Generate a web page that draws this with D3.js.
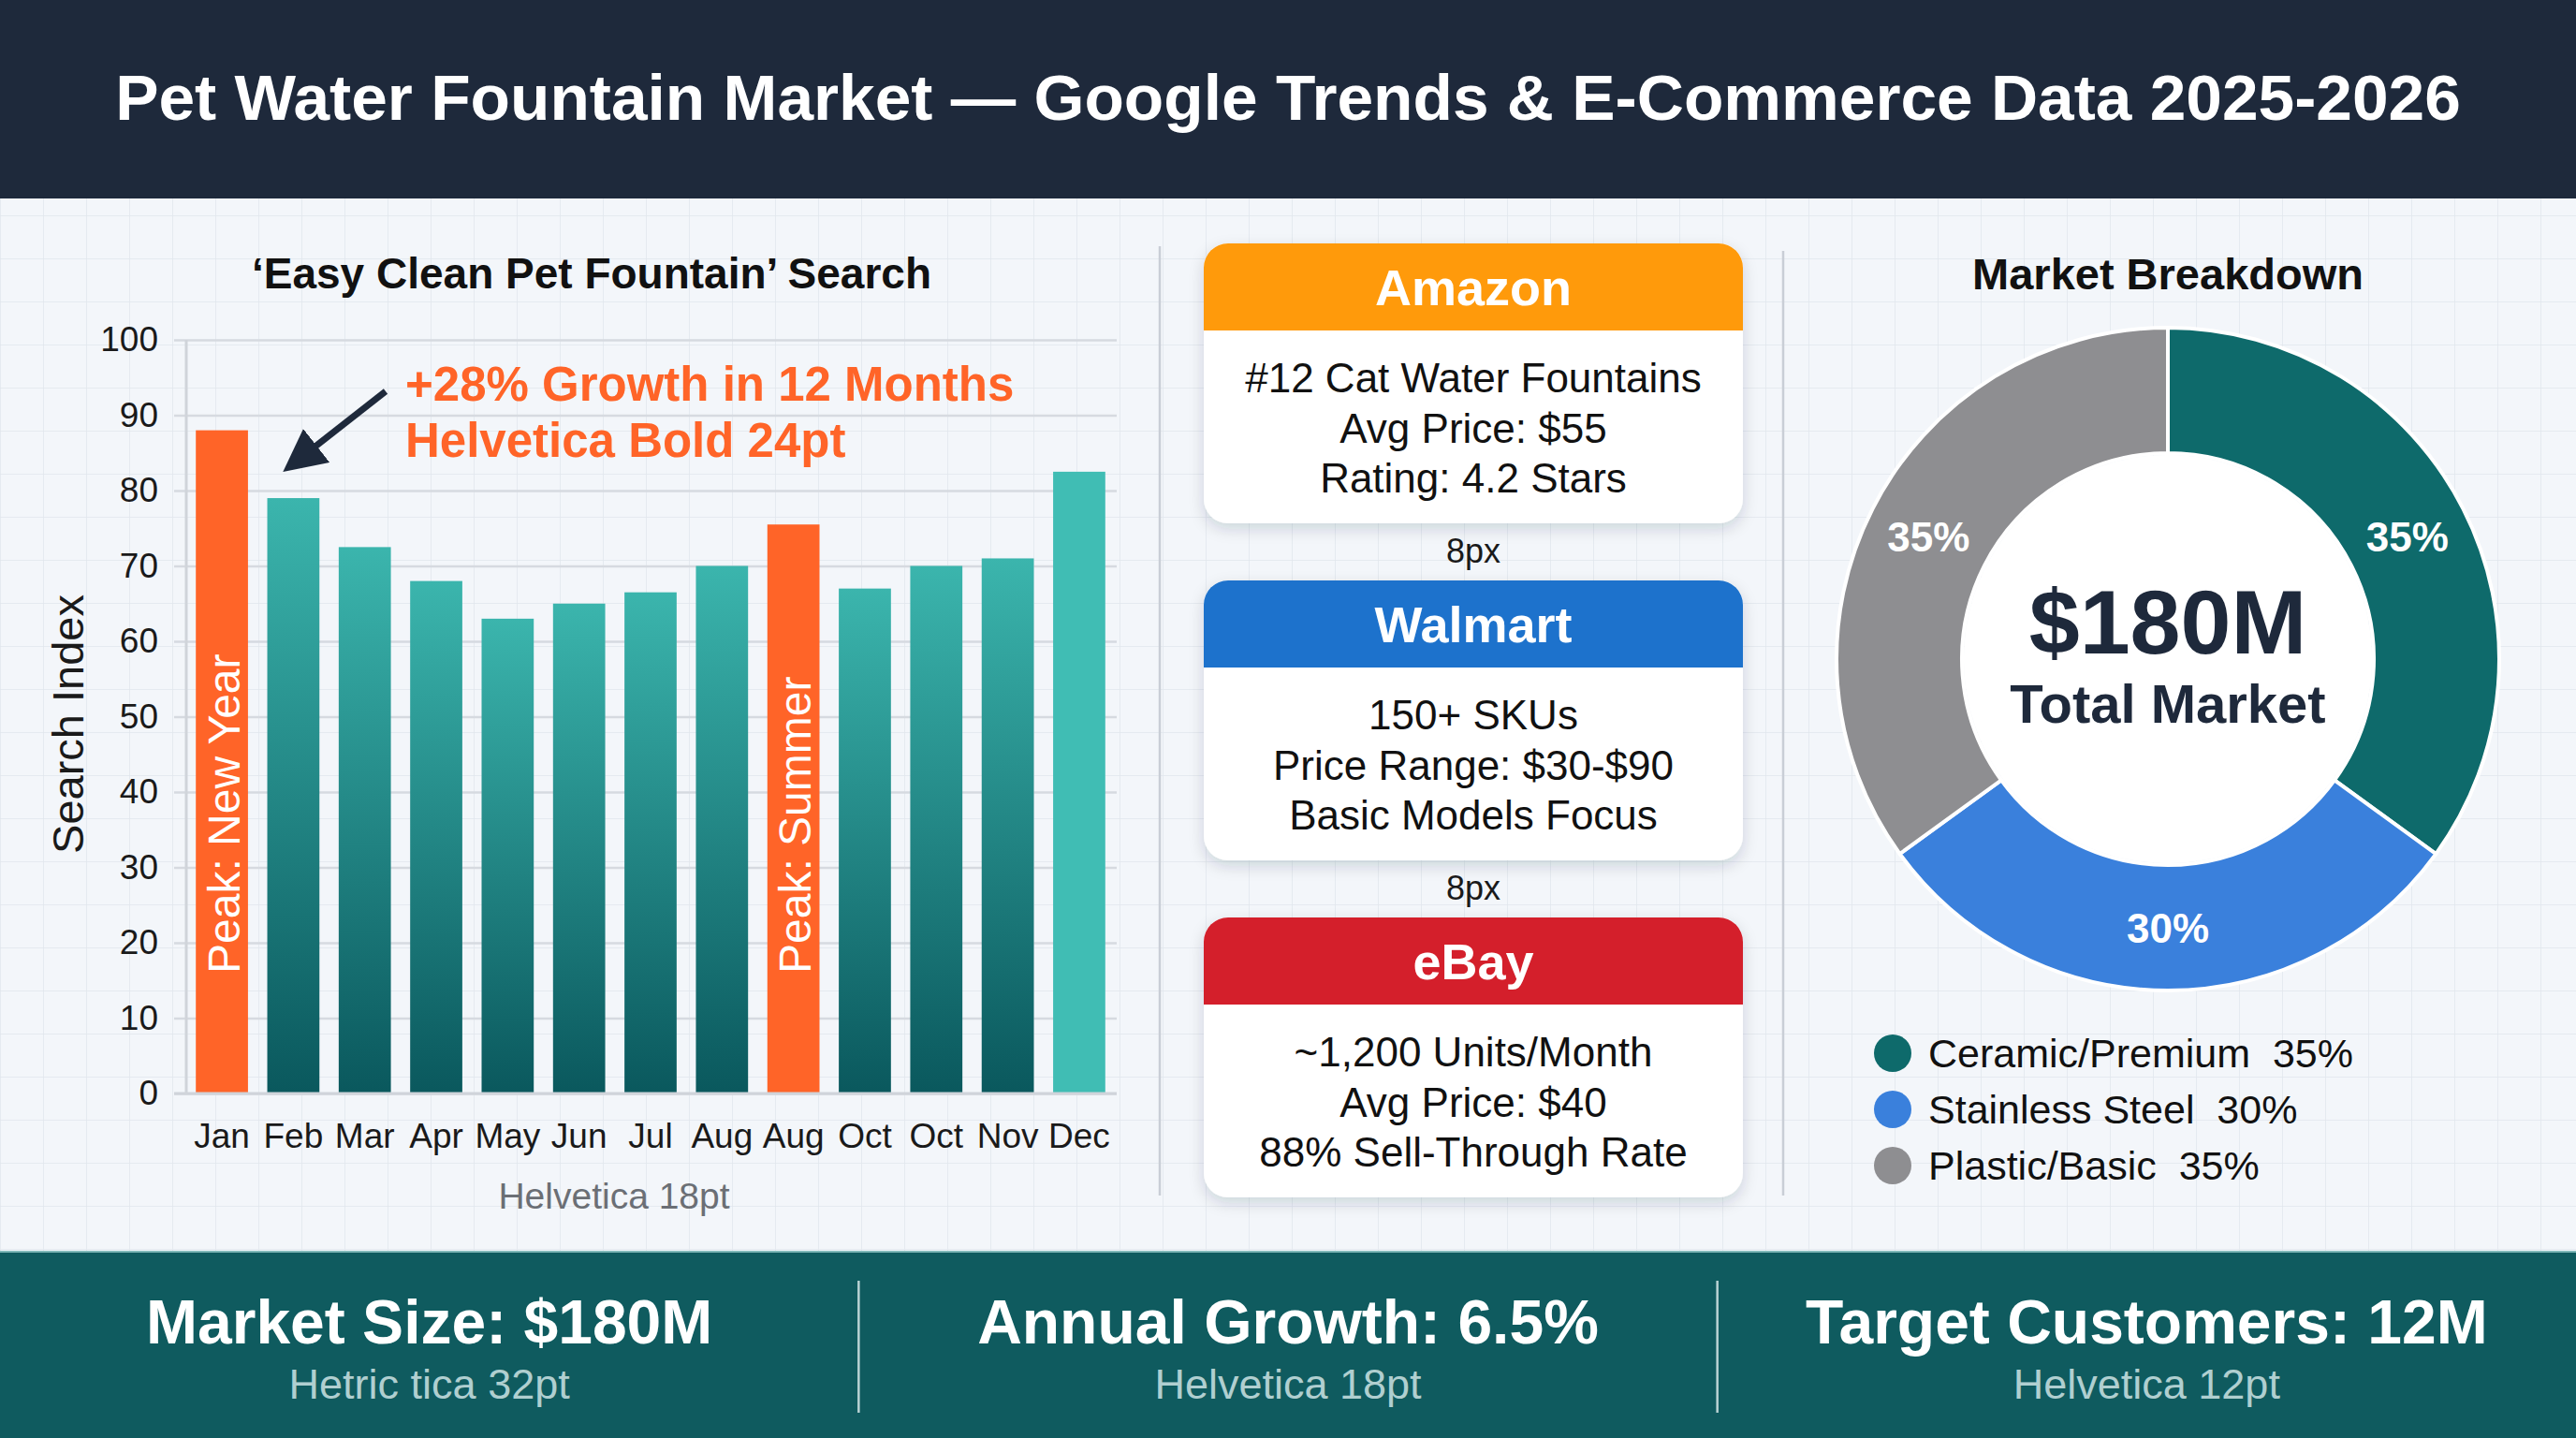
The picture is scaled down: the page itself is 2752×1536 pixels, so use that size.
<!DOCTYPE html>
<html lang="en">
<head>
    <meta charset="UTF-8">
    <title>Pet Water Fountain Market</title>
    <script src="https://cdn.jsdelivr.net/npm/d3@7"></script>
    <style>
        body { margin: 0; background: #f3f6fa; }
        svg { display: block; font-family: "Liberation Sans", Arial, Helvetica, sans-serif; }
    </style>
</head>
<body>

<div id="fig"></div>

<script>
    const width = 2752;
    const height = 1536;

    // ---- data ----
    const title = "Pet Water Fountain Market \u2014 Google Trends & E-Commerce Data 2025-2026";

    const months = ["Jan", "Feb", "Mar", "Apr", "May", "Jun", "Jul", "Aug", "Aug", "Oct", "Oct", "Nov", "Dec"];
    const searchIndex = [88, 79, 72.5, 68, 63, 65, 66.5, 70, 75.5, 67, 70, 71, 82.5];
    const barKind = ["peak", "base", "base", "base", "base", "base", "base", "base", "peak", "base", "base", "base", "light"];
    const peakLabels = ["Peak: New Year", "", "", "", "", "", "", "", "Peak: Summer", "", "", "", ""];
    const yTicks = [0, 10, 20, 30, 40, 50, 60, 70, 80, 90, 100];

    const platforms = ["Amazon", "Walmart", "eBay"];
    const platformLines = [
        ["#12 Cat Water Fountains", "Avg Price: $55", "Rating: 4.2 Stars"],
        ["150+ SKUs", "Price Range: $30-$90", "Basic Models Focus"],
        ["~1,200 Units/Month", "Avg Price: $40", "88% Sell-Through Rate"]
    ];
    const gapLabels = ["8px", "8px"];

    const segments = ["Ceramic/Premium", "Stainless Steel", "Plastic/Basic"];
    const shares = [35, 30, 35];

    const stats = ["Market Size: $180M", "Annual Growth: 6.5%", "Target Customers: 12M"];
    const statNotes = ["Hetric tica 32pt", "Helvetica 18pt", "Helvetica 12pt"];

    // ---- styles ----
    const orange = "#ff6428";
    const navy = "#1e293b";
    const platformColors = ["#ff9a0b", "#1d72cc", "#d41f2b"];
    const segmentColors = ["#0e6a6b", "#3a80dc", "#8e8e91"];

    const svg = d3.select("#fig").append("svg")
        .attr("width", width)
        .attr("height", height)
        .attr("viewBox", [0, 0, width, height]);

    const defs = svg.append("defs");

    // grid pattern for background
    const pat = defs.append("pattern")
        .attr("id", "grid")
        .attr("width", 46)
        .attr("height", 46)
        .attr("patternUnits", "userSpaceOnUse");
    pat.append("rect").attr("width", 46).attr("height", 46).attr("fill", "#f3f6fa");
    pat.append("path")
        .attr("d", "M46 0 L0 0 0 46")
        .attr("fill", "none")
        .attr("stroke", "#e1e6ed")
        .attr("stroke-width", 1.5);

    const grad = defs.append("linearGradient")
        .attr("id", "tealGrad")
        .attr("x1", 0).attr("y1", 0).attr("x2", 0).attr("y2", 1);
    grad.append("stop").attr("offset", "0%").attr("stop-color", "#3bb5ad");
    grad.append("stop").attr("offset", "100%").attr("stop-color", "#0a585d");

    const shadow = defs.append("filter")
        .attr("id", "shadow")
        .attr("x", "-10%").attr("y", "-10%").attr("width", "120%").attr("height", "130%");
    shadow.append("feDropShadow")
        .attr("dx", 0).attr("dy", 6).attr("stdDeviation", 8)
        .attr("flood-color", "#1e293b").attr("flood-opacity", 0.16);

    function fitText(sel, maxWidth) {
        const w = sel.node().getComputedTextLength();
        if (w > maxWidth) {
            const fs = parseFloat(sel.attr("font-size"));
            sel.attr("font-size", fs * maxWidth / w);
        }
    }

    // ---- background ----
    svg.append("rect")
        .attr("x", 0).attr("y", 212)
        .attr("width", width).attr("height", 1124)
        .attr("fill", "url(#grid)");

    // ---- header ----
    svg.append("rect")
        .attr("width", width).attr("height", 212)
        .attr("fill", navy);

    const titleText = svg.append("text")
        .attr("x", width / 2)
        .attr("y", 128)
        .attr("text-anchor", "middle")
        .attr("font-size", 71)
        .attr("font-weight", "bold")
        .attr("fill", "#ffffff")
        .text(title);
    fitText(titleText, 2506);

    // ---- bar chart ----
    const x = d3.scaleBand()
        .domain(d3.range(months.length))
        .range([197, 1193])
        .paddingInner(0.27)
        .paddingOuter(0.16);

    const y = d3.scaleLinear()
        .domain([0, 100])
        .range([1168, 363]);

    svg.append("text")
        .attr("x", 632)
        .attr("y", 308)
        .attr("text-anchor", "middle")
        .attr("font-size", 46)
        .attr("font-weight", "bold")
        .attr("fill", "#111")
        .text("\u2018Easy Clean Pet Fountain\u2019 Search");

    const yAxis = svg.append("g")
        .attr("transform", "translate(186,0)")
        .call(d3.axisLeft(y)
            .tickValues(yTicks)
            .tickSizeInner(-1007)
            .tickSizeOuter(0)
            .tickPadding(17));
    yAxis.select(".domain").remove();
    yAxis.selectAll(".tick line")
        .attr("stroke", "#d6dae0")
        .attr("stroke-width", 2.5);
    yAxis.selectAll(".tick text")
        .attr("font-size", 37)
        .attr("font-family", "Liberation Sans, Arial, sans-serif")
        .attr("fill", "#1a1a1a");

    svg.append("line")
        .attr("x1", 199).attr("x2", 199)
        .attr("y1", y(100)).attr("y2", y(0))
        .attr("stroke", "#d0d4da")
        .attr("stroke-width", 3);

    svg.append("text")
        .attr("transform", "translate(89," + (y(50) + 8) + ") rotate(-90)")
        .attr("text-anchor", "middle")
        .attr("font-size", 47)
        .attr("fill", "#1a1a1a")
        .text("Search Index");

    svg.append("g")
        .selectAll("rect")
        .data(searchIndex)
        .join("rect")
        .attr("x", (d, i) => x(i))
        .attr("y", d => y(d))
        .attr("width", x.bandwidth())
        .attr("height", d => y(0) - y(d))
        .attr("fill", (d, i) => barKind[i] === "peak" ? orange : (barKind[i] === "light" ? "#40bdb4" : "url(#tealGrad)"));

    svg.append("g")
        .selectAll("text")
        .data(peakLabels)
        .join("text")
        .filter(d => d !== "")
        .attr("transform", d => {
            const idx = peakLabels.indexOf(d);
            return "translate(" + (x(idx) + x.bandwidth() / 2 + 2) + "," + (y(0) - 128) + ") rotate(-90)";
        })
        .attr("dominant-baseline", "central")
        .attr("font-size", 48)
        .attr("fill", "#ffffff")
        .text(d => d);

    const xAxis = svg.append("g")
        .attr("transform", "translate(0," + y(0) + ")")
        .call(d3.axisBottom(x)
            .tickFormat(i => months[i])
            .tickSize(0)
            .tickPadding(32));
    xAxis.select(".domain")
        .attr("stroke", "#d0d4da")
        .attr("stroke-width", 3)
        .attr("d", "M186,0H1193");
    xAxis.selectAll(".tick text")
        .attr("font-size", 37)
        .attr("font-family", "Liberation Sans, Arial, sans-serif")
        .attr("fill", "#1a1a1a");

    svg.append("text")
        .attr("x", 656)
        .attr("y", 1291)
        .attr("text-anchor", "middle")
        .attr("font-size", 39)
        .attr("fill", "#6b6f75")
        .text("Helvetica 18pt");

    // growth annotation
    defs.append("marker")
        .attr("id", "arrowHead")
        .attr("viewBox", "0 0 10 10")
        .attr("refX", 2).attr("refY", 5)
        .attr("markerWidth", 6.5).attr("markerHeight", 6.5)
        .attr("markerUnits", "strokeWidth")
        .attr("orient", "auto")
        .append("path")
        .attr("d", "M0,0 L10,5 L0,10 z")
        .attr("fill", navy);

    const tipX = x(0) + x.bandwidth() + 40;
    const tipY = y(88) + 38;
    svg.append("line")
        .attr("x1", 412).attr("y1", 418)
        .attr("x2", tipX + 26).attr("y2", tipY - 16)
        .attr("stroke", navy)
        .attr("stroke-width", 7)
        .attr("marker-end", "url(#arrowHead)");

    svg.append("text")
        .attr("x", 433).attr("y", 428)
        .attr("font-size", 51)
        .attr("font-weight", "bold")
        .attr("fill", orange)
        .text("+28% Growth in 12 Months");
    svg.append("text")
        .attr("x", 433).attr("y", 488)
        .attr("font-size", 51)
        .attr("font-weight", "bold")
        .attr("fill", orange)
        .text("Helvetica Bold 24pt");

    // dividers
    svg.append("line")
        .attr("x1", 1239).attr("x2", 1239)
        .attr("y1", 263).attr("y2", 1277)
        .attr("stroke", "#c9ced6").attr("stroke-width", 2.5);
    svg.append("line")
        .attr("x1", 1905).attr("x2", 1905)
        .attr("y1", 268).attr("y2", 1277)
        .attr("stroke", "#c9ced6").attr("stroke-width", 2.5);

    // ---- platform cards ----
    const cardX = 1286, cardW = 576, cardH = 299, headH = 93, cardGap = 360;
    const cardTop = 260;

    platforms.forEach((name, i) => {
        const top = cardTop + i * cardGap;
        const g = svg.append("g");

        defs.append("clipPath")
            .attr("id", "card" + i)
            .append("rect")
            .attr("x", cardX).attr("y", top)
            .attr("width", cardW).attr("height", cardH)
            .attr("rx", 26);

        g.append("rect")
            .attr("x", cardX).attr("y", top)
            .attr("width", cardW).attr("height", cardH)
            .attr("rx", 26)
            .attr("fill", "#ffffff")
            .attr("filter", "url(#shadow)");

        g.append("rect")
            .attr("x", cardX).attr("y", top)
            .attr("width", cardW).attr("height", headH)
            .attr("fill", platformColors[i])
            .attr("clip-path", "url(#card" + i + ")");

        g.append("text")
            .attr("x", cardX + cardW / 2)
            .attr("y", top + 66)
            .attr("text-anchor", "middle")
            .attr("font-size", 54)
            .attr("font-weight", "bold")
            .attr("fill", "#ffffff")
            .text(name);

        g.selectAll("text.line")
            .data(platformLines[i])
            .join("text")
            .attr("class", "line")
            .attr("x", cardX + cardW / 2)
            .attr("y", (d, j) => top + 159 + j * 53.5)
            .attr("text-anchor", "middle")
            .attr("font-size", 44)
            .attr("fill", "#111")
            .text(d => d);
    });

    svg.append("g")
        .selectAll("text")
        .data(gapLabels)
        .join("text")
        .attr("x", cardX + cardW / 2)
        .attr("y", (d, i) => cardTop + cardH + 42 + i * cardGap)
        .attr("text-anchor", "middle")
        .attr("font-size", 36)
        .attr("fill", "#1a1a1a")
        .text(d => d);

    // ---- donut ----
    const cx = 2316, cy = 704;
    svg.append("text")
        .attr("x", cx)
        .attr("y", 309)
        .attr("text-anchor", "middle")
        .attr("font-size", 47)
        .attr("font-weight", "bold")
        .attr("fill", "#111")
        .text("Market Breakdown");

    const pie = d3.pie().sort(null).value(d => d)(shares);
    const arc = d3.arc().innerRadius(220).outerRadius(354);
    const donut = svg.append("g").attr("transform", "translate(" + cx + "," + cy + ")");

    donut.selectAll("path")
        .data(pie)
        .join("path")
        .attr("d", arc)
        .attr("fill", (d, i) => segmentColors[i])
        .attr("stroke", "#ffffff")
        .attr("stroke-width", 4);

    donut.selectAll("text")
        .data(pie)
        .join("text")
        .attr("transform", d => "translate(" + arc.centroid(d) + ")")
        .attr("text-anchor", "middle")
        .attr("dominant-baseline", "central")
        .attr("font-size", 44)
        .attr("font-weight", "bold")
        .attr("fill", "#ffffff")
        .text(d => d.data + "%");

    donut.append("circle").attr("r", 218).attr("fill", "#ffffff");

    donut.append("text")
        .attr("y", -6)
        .attr("text-anchor", "middle")
        .attr("font-size", 97)
        .attr("font-weight", "bold")
        .attr("fill", navy)
        .text("$180M");
    donut.append("text")
        .attr("y", 68)
        .attr("text-anchor", "middle")
        .attr("font-size", 58)
        .attr("font-weight", "bold")
        .attr("fill", navy)
        .text("Total Market");

    const legend = svg.append("g")
        .selectAll("g")
        .data(segments)
        .join("g")
        .attr("transform", (d, i) => "translate(2022," + (1125 + i * 60) + ")");
    legend.append("circle")
        .attr("r", 20)
        .attr("fill", (d, i) => segmentColors[i]);
    legend.append("text")
        .attr("x", 38)
        .attr("y", 15)
        .attr("font-size", 43)
        .attr("fill", "#111")
        .style("white-space", "pre")
        .text((d, i) => d + "  " + shares[i] + "%");

    // ---- footer ----
    svg.append("rect")
        .attr("x", 0).attr("y", 1336)
        .attr("width", width).attr("height", 200)
        .attr("fill", "#0f5b5f");
    svg.append("line")
        .attr("x1", 0).attr("x2", width)
        .attr("y1", 1337).attr("y2", 1337)
        .attr("stroke", "#7fb8b8").attr("stroke-width", 2);

    const secW = width / 3;
    [1, 2].forEach(k => {
        svg.append("line")
            .attr("x1", k * secW).attr("x2", k * secW)
            .attr("y1", 1368).attr("y2", 1509)
            .attr("stroke", "#b9d3d4").attr("stroke-width", 2.5);
    });

    svg.append("g")
        .selectAll("text")
        .data(stats)
        .join("text")
        .attr("x", (d, i) => secW * i + secW / 2)
        .attr("y", 1435)
        .attr("text-anchor", "middle")
        .attr("font-size", 66)
        .attr("font-weight", "bold")
        .attr("fill", "#ffffff")
        .text(d => d);

    svg.append("g")
        .selectAll("text")
        .data(statNotes)
        .join("text")
        .attr("x", (d, i) => secW * i + secW / 2)
        .attr("y", 1494)
        .attr("text-anchor", "middle")
        .attr("font-size", 45)
        .attr("fill", "#b0cfd0")
        .text(d => d);
</script>

</body>
</html>
